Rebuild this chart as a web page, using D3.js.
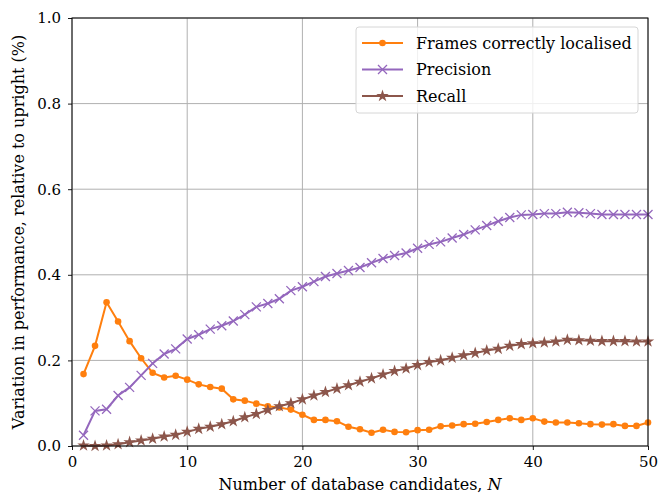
<!DOCTYPE html>
<html>
<head>
<meta charset="utf-8">
<script src="https://cdn.jsdelivr.net/npm/d3@7"></script>
<style>
  body { margin: 0; background: #fff; }
  svg { display: block; font-family: "DejaVu Serif", "Liberation Serif", serif; }
</style>
</head>
<body>
<div id="chart"></div>
<script>
var svgWidth = 659;
var svgHeight = 495;

var margin = { top: 18, right: 11, bottom: 49, left: 72 };
var width = svgWidth - margin.left - margin.right;
var height = svgHeight - margin.top - margin.bottom;

// N = 1..50
var candidates = d3.range(1, 51);

var framesLocalised = [
  0.168, 0.234, 0.336, 0.291, 0.245, 0.205, 0.171, 0.160, 0.164, 0.155,
  0.144, 0.138, 0.134, 0.109, 0.106, 0.099, 0.093, 0.090, 0.085, 0.073,
  0.061, 0.061, 0.058, 0.045, 0.039, 0.031, 0.038, 0.033, 0.032, 0.037,
  0.038, 0.046, 0.048, 0.051, 0.052, 0.056, 0.061, 0.065, 0.061, 0.065,
  0.057, 0.055, 0.055, 0.053, 0.051, 0.050, 0.051, 0.047, 0.047, 0.055
];

var precision = [
  0.025, 0.082, 0.086, 0.118, 0.137, 0.165, 0.193, 0.215, 0.227, 0.250,
  0.260, 0.273, 0.281, 0.292, 0.307, 0.325, 0.333, 0.344, 0.363, 0.372,
  0.384, 0.396, 0.403, 0.410, 0.417, 0.428, 0.438, 0.445, 0.451, 0.462,
  0.471, 0.477, 0.486, 0.494, 0.505, 0.515, 0.525, 0.534, 0.540, 0.541,
  0.543, 0.543, 0.546, 0.545, 0.543, 0.541, 0.541, 0.541, 0.541, 0.541
];

var recall = [
  0.001, 0.000, 0.001, 0.004, 0.009, 0.013, 0.017, 0.022, 0.026, 0.033,
  0.040, 0.045, 0.051, 0.058, 0.067, 0.075, 0.084, 0.093, 0.100, 0.109,
  0.118, 0.126, 0.134, 0.142, 0.150, 0.158, 0.167, 0.175, 0.181, 0.189,
  0.196, 0.200, 0.206, 0.212, 0.217, 0.223, 0.227, 0.234, 0.238, 0.240,
  0.242, 0.244, 0.248, 0.247, 0.246, 0.245, 0.245, 0.245, 0.244, 0.244
];

var xTicks = [0, 10, 20, 30, 40, 50];
var yTicks = [0.0, 0.2, 0.4, 0.6, 0.8, 1.0];

var seriesNames = ["Frames correctly localised", "Precision", "Recall"];
var seriesColors = ["#ff7f0e", "#9467bd", "#8c564b"];
var seriesMarkers = ["dot", "x", "star"];
var seriesValues = [framesLocalised, precision, recall];

var svg = d3.select("#chart")
  .append("svg")
  .attr("width", svgWidth)
  .attr("height", svgHeight);

var chartGroup = svg.append("g")
  .attr("transform", `translate(${margin.left}, ${margin.top})`);

var xScale = d3.scaleLinear().domain([0, 50]).range([0, width]);
var yScale = d3.scaleLinear().domain([0, 1]).range([height, 0]);

// grid
chartGroup.append("g")
  .selectAll("line")
  .data(xTicks)
  .enter()
  .append("line")
  .attr("x1", d => xScale(d))
  .attr("x2", d => xScale(d))
  .attr("y1", 0)
  .attr("y2", height)
  .attr("stroke", "#b0b0b0")
  .attr("stroke-width", 1);

chartGroup.append("g")
  .selectAll("line")
  .data(yTicks)
  .enter()
  .append("line")
  .attr("x1", 0)
  .attr("x2", width)
  .attr("y1", d => yScale(d))
  .attr("y2", d => yScale(d))
  .attr("stroke", "#b0b0b0")
  .attr("stroke-width", 1);

// axes
var bottomAxis = d3.axisBottom(xScale).tickValues(xTicks).tickFormat(d3.format("d")).tickSizeOuter(0).tickSize(4).tickPadding(6);
var leftAxis = d3.axisLeft(yScale).tickValues(yTicks).tickFormat(d3.format(".1f")).tickSizeOuter(0).tickSize(4).tickPadding(7);

var xAxis = chartGroup.append("g")
  .attr("transform", `translate(0, ${height})`)
  .call(bottomAxis);

var yAxis = chartGroup.append("g")
  .call(leftAxis);

[xAxis, yAxis].forEach(function(ax) {
  ax.select(".domain").remove();
  ax.selectAll("line").attr("stroke", "#000").attr("stroke-width", 0.9);
  ax.selectAll("text")
    .attr("fill", "#000")
    .style("font-family", "DejaVu Serif, serif")
    .style("font-size", "15px");
});

// series
var line = d3.line()
  .x((d, i) => xScale(candidates[i]))
  .y(d => yScale(d));

function drawMarker(g, kind, color) {
  if (kind === "dot") {
    g.append("circle").attr("r", 3.3).attr("fill", color);
  } else if (kind === "x") {
    g.append("path").attr("d", "M-4.5,-4.5L4.5,4.5M-4.5,4.5L4.5,-4.5")
      .attr("stroke", color).attr("stroke-width", 1.3).attr("fill", "none");
  } else {
    g.append("path").attr("d", d3.symbol().type(d3.symbolStar).size(48)())
      .attr("fill", color);
  }
}

seriesValues.forEach(function(vals, s) {
  chartGroup.append("path")
    .datum(vals)
    .attr("d", line)
    .attr("fill", "none")
    .attr("stroke", seriesColors[s])
    .attr("stroke-width", 2);

  chartGroup.append("g")
    .selectAll("g")
    .data(vals)
    .enter()
    .append("g")
    .attr("transform", (d, i) => `translate(${xScale(candidates[i])}, ${yScale(d)})`)
    .each(function() { drawMarker(d3.select(this), seriesMarkers[s], seriesColors[s]); });
});

// spines
chartGroup.append("rect")
  .attr("x", 0).attr("y", 0)
  .attr("width", width).attr("height", height)
  .attr("fill", "none")
  .attr("stroke", "#000")
  .attr("stroke-width", 1);

// legend
var legend = chartGroup.append("g")
  .attr("transform", `translate(${width - 292}, 9)`);

legend.append("rect")
  .attr("width", 282).attr("height", 86)
  .attr("rx", 3)
  .attr("fill", "#fff").attr("fill-opacity", 0.8)
  .attr("stroke", "#d6d6d6");

seriesNames.forEach(function(name, s) {
  var row = legend.append("g").attr("transform", `translate(0, ${16 + s * 26.5})`);
  row.append("line")
    .attr("x1", 6).attr("x2", 47)
    .attr("stroke", seriesColors[s]).attr("stroke-width", 2);
  drawMarker(row.append("g").attr("transform", "translate(26.5,0)"), seriesMarkers[s], seriesColors[s]);
  row.append("text")
    .attr("x", 60).attr("y", 5.5)
    .style("font-size", "16px")
    .text(name);
});

// axis labels
chartGroup.append("text")
  .attr("x", width / 2)
  .attr("y", height + 44)
  .attr("text-anchor", "middle")
  .style("font-size", "16px")
  .html("Number of database candidates, <tspan font-style='italic'>N</tspan>");

chartGroup.append("text")
  .attr("transform", `translate(${-48}, ${height / 2}) rotate(-90)`)
  .attr("text-anchor", "middle")
  .style("font-size", "16px")
  .text("Variation in performance, relative to upright (%)");
</script>
</body>
</html>
